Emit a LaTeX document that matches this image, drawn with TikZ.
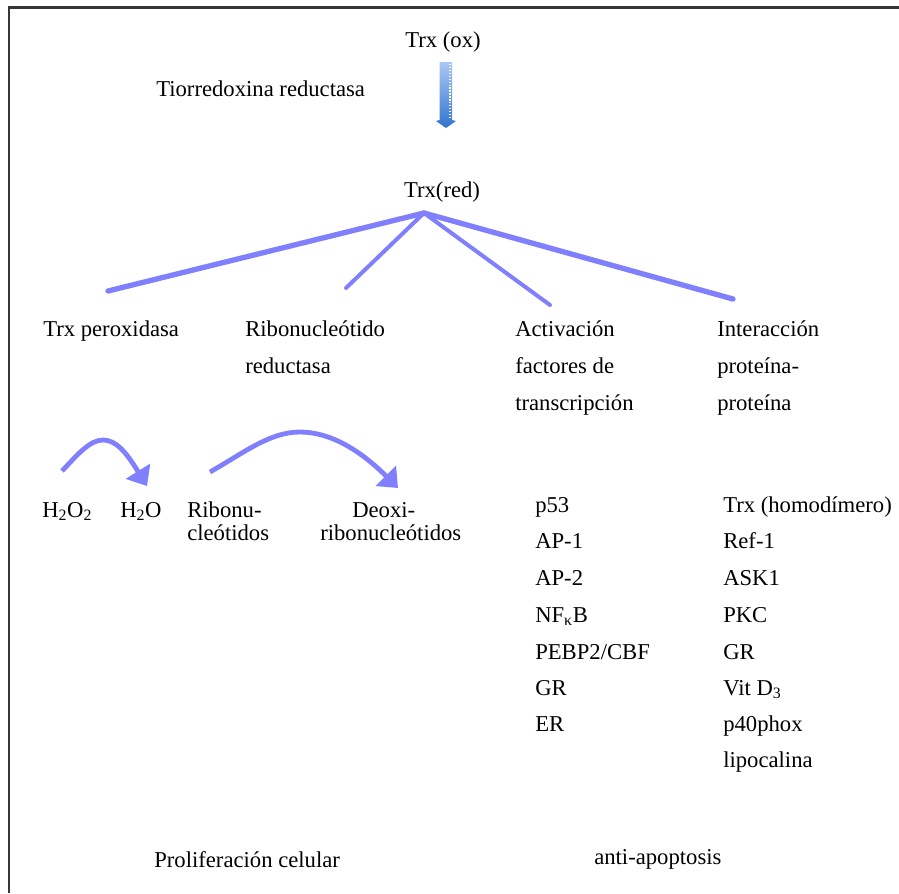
\documentclass[tikz,border=0pt]{standalone}
\usepackage{fontspec}
\setmainfont{Liberation Serif}
\usetikzlibrary{arrows.meta}
\definecolor{branch}{RGB}{128,128,255}
\definecolor{frameline}{RGB}{55,55,55}
\definecolor{arrtop}{RGB}{170,200,245}
\definecolor{arrbot}{RGB}{50,115,205}
\begin{document}
\begin{tikzpicture}[x=0.75pt,y=-0.75pt,
  lbl/.style={anchor=base west,inner sep=0pt,font=\fontsize{17}{20}\selectfont},
  lblc/.style={lbl,anchor=base},
  branchthick/.style={draw=branch,line width=4pt,line cap=round},
  branchthin/.style={draw=branch,line width=3pt,line cap=round},
  bendarrow/.style={draw=branch,line width=3.6pt,-{Triangle[width=21pt,length=13pt]}},
]
\useasboundingbox (0,0) rectangle (899,893);
\draw[frameline,line width=1.6pt] (9,893) -- (9,7.5) -- (899,7.5);

% top
\node[lblc] (ox) at (443,47) {Trx (ox)};
\node[lbl] (tr) at (156,96) {Tiorredoxina reductasa};
\shade[top color=arrtop,bottom color=arrbot]
  (439.5,62) -- (452,62) -- (452,120) -- (456,121) -- (446,128) -- (436,121) -- (439.5,120) -- cycle;
\draw[white,line width=0.9pt,dash pattern=on 1pt off 1.2pt] (450,64) -- (450,119);
\node[lblc] (red) at (442,197) {Trx(red)};

% branches
\coordinate (apex) at (424,213);
\coordinate (e1) at (108,291);
\coordinate (e2) at (346,288);
\coordinate (e3) at (550,305);
\coordinate (e4) at (733,299);
\draw[branchthick] (apex) -- (e1);
\draw[branchthin] (apex) -- (e2);
\draw[branchthin] (apex) -- (e3);
\draw[branchthick] (apex) -- (e4);

% second level
\node[lbl] (perox) at (43,336) {Trx peroxidasa};
\node[lbl] (ribA) at (245,336) {Ribonucleótido};
\node[lbl] (ribB) at (245,373) {reductasa};
\node[lbl] (actA) at (515,336) {Activación};
\node[lbl] (actB) at (515,373) {factores de};
\node[lbl] (actC) at (515,410) {transcripción};
\node[lbl] (intA) at (717,336) {Interacción};
\node[lbl] (intB) at (717,373) {proteína-};
\node[lbl] (intC) at (717,410) {proteína};

% reactions
\coordinate (c1s) at (62,471);
\coordinate (c1p) at (103,440);
\coordinate (c1e) at (147,486);
\draw[bendarrow] (c1s) .. controls (78,454) and (90,440) .. (c1p) .. controls (116,440) and (126,452) .. (c1e);
\coordinate (c2s) at (210,472);
\coordinate (c2p) at (300,432);
\coordinate (c2e) at (398,488);
\draw[bendarrow] (c2s) .. controls (245,452) and (270,432) .. (c2p) .. controls (330,432) and (360,450) .. (c2e);

\node[lbl] (hoo) at (42,517) {H\textsubscript{2}O\textsubscript{2}};
\node[lbl] (ho) at (120,517) {H\textsubscript{2}O};
\node[lbl] (rnA) at (187,517) {Ribonu-};
\node[lbl] (rnB) at (187,540) {cleótidos};
\node[lbl] (dnA) at (352,517) {Deoxi-};
\node[lbl] (dnB) at (320,540) {ribonucleótidos};

% lists
\node[lbl] (l1) at (535,512) {p53};
\node[lbl] (l2) at (535,548) {AP-1};
\node[lbl] (l3) at (535,585) {AP-2};
\node[lbl] (l4) at (535,622) {NF\textsubscript{κ}B};
\node[lbl] (l5) at (535,659) {PEBP2/CBF};
\node[lbl] (l6) at (535,695) {GR};
\node[lbl] (l7) at (535,731) {ER};

\node[lbl] (r1) at (723,512) {Trx (homodímero)};
\node[lbl] (r2) at (723,548) {Ref-1};
\node[lbl] (r3) at (723,585) {ASK1};
\node[lbl] (r4) at (723,622) {PKC};
\node[lbl] (r5) at (723,659) {GR};
\node[lbl] (r6) at (723,695) {Vit D\textsubscript{3}};
\node[lbl] (r7) at (723,731) {p40phox};
\node[lbl] (r8) at (723,767) {lipocalina};

% bottom
\node[lbl] (prol) at (154,867) {Proliferación celular};
\node[lbl] (anti) at (594,864) {anti-apoptosis};
\end{tikzpicture}
\end{document}
